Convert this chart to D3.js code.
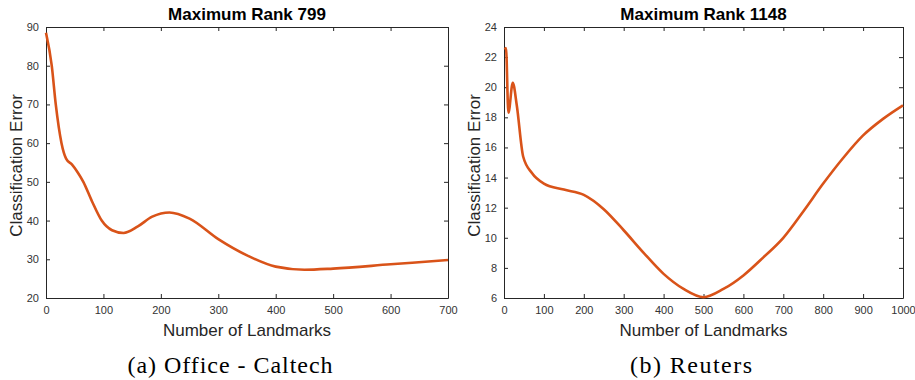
<!DOCTYPE html>
<html>
<head>
<meta charset="utf-8">
<script src="https://cdn.jsdelivr.net/npm/d3@7"></script>
<style>
  body { margin: 0; background: #fff; }
  svg { display: block; }
  .tick text { font-family: "Liberation Sans", Arial, sans-serif; font-size: 11px; fill: #333; }
</style>
</head>
<body>
<svg id="chart" width="915" height="380"></svg>
<script>
// Office - Caltech
const officeX = [0, 10, 17, 27, 35, 45, 55, 65, 80, 97, 115, 135, 160, 185, 215, 250, 300, 350, 400, 450, 500, 600, 700];
const officeY = [88.5, 80, 70, 60, 56, 54.5, 52.5, 50, 45, 40, 37.5, 36.8, 38.5, 41, 42.1, 40.5, 35.2, 31, 28.1, 27.3, 27.6, 28.7, 29.8];
// Reuters
const reutersX = [2, 5, 11, 22, 32, 48, 70, 100, 150, 200, 250, 300, 350, 400, 450, 500, 550, 600, 650, 700, 750, 800, 850, 900, 950, 1000];
const reutersY = [22.5, 22.6, 18.3, 20.3, 18.8, 15.4, 14.3, 13.6, 13.2, 12.85, 11.9, 10.5, 9.0, 7.6, 6.6, 6.05, 6.6, 7.5, 8.7, 10.0, 11.75, 13.6, 15.3, 16.8, 17.9, 18.8];

const officeXTicks = [0, 100, 200, 300, 400, 500, 600, 700];
const officeYTicks = [20, 30, 40, 50, 60, 70, 80, 90];
const reutersXTicks = [0, 100, 200, 300, 400, 500, 600, 700, 800, 900, 1000];
const reutersYTicks = [6, 8, 10, 12, 14, 16, 18, 20, 22, 24];

const panels = [
  { left: 46, right: 448, xs: officeX, ys: officeY, xDom: [0, 700], yDom: [20, 90],
    xTicks: officeXTicks, yTicks: officeYTicks, title: 'Maximum Rank 799', caption: '(a) Office - Caltech', capX: 230, capLen: 205 },
  { left: 504, right: 903, xs: reutersX, ys: reutersY, xDom: [0, 1000], yDom: [6, 24],
    xTicks: reutersXTicks, yTicks: reutersYTicks, title: 'Maximum Rank 1148', caption: '(b) Reuters', capX: 691, capLen: 122 }
];

const plotTop = 27, plotBottom = 298;
const svg = d3.select('#chart');

panels.forEach(p => {
  const x = d3.scaleLinear().domain(p.xDom).range([p.left, p.right]);
  const y = d3.scaleLinear().domain(p.yDom).range([plotBottom, plotTop]);
  const g = svg.append('g');

  const axisStyle = sel => {
    sel.select('.domain').attr('stroke', '#262626');
    sel.selectAll('.tick line').attr('stroke', '#262626');
  };

  g.append('g').attr('transform', `translate(0,${plotBottom})`)
    .call(d3.axisBottom(x).tickValues(p.xTicks).tickFormat(d3.format('d'))
      .tickSizeInner(-4).tickSizeOuter(0).tickPadding(8))
    .call(axisStyle);
  g.append('g').attr('transform', `translate(0,${plotTop})`)
    .call(d3.axisTop(x).tickValues(p.xTicks).tickSizeInner(-4).tickSizeOuter(0).tickFormat(''))
    .call(axisStyle);
  g.append('g').attr('transform', `translate(${p.left},0)`)
    .call(d3.axisLeft(y).tickValues(p.yTicks).tickSizeInner(-4).tickSizeOuter(0).tickPadding(7))
    .call(axisStyle);
  g.append('g').attr('transform', `translate(${p.right},0)`)
    .call(d3.axisRight(y).tickValues(p.yTicks).tickSizeInner(-4).tickSizeOuter(0).tickFormat(''))
    .call(axisStyle);

  const line = d3.line()
    .x((d, i) => x(p.xs[i]))
    .y(d => y(d))
    .curve(d3.curveMonotoneX);
  g.append('path')
    .datum(p.ys)
    .attr('d', line)
    .attr('fill', 'none')
    .attr('stroke', '#D95319')
    .attr('stroke-width', 2.6)
    .attr('stroke-linejoin', 'round');

  const cx = (p.left + p.right) / 2;
  g.append('text')
    .attr('x', cx).attr('y', 20)
    .attr('text-anchor', 'middle')
    .style('font-family', '"Liberation Sans", Arial, sans-serif')
    .style('font-weight', 'bold').style('font-size', '17px').style('fill', '#000')
    .text(p.title);

  g.append('text')
    .attr('x', cx).attr('y', 336)
    .attr('text-anchor', 'middle')
    .style('font-family', '"Liberation Sans", Arial, sans-serif')
    .style('font-size', '17px').style('fill', '#262626')
    .text('Number of Landmarks');

  g.append('text')
    .attr('transform', `translate(${p.left - 24},${(plotTop + plotBottom) / 2 + 3}) rotate(-90)`)
    .attr('text-anchor', 'middle')
    .style('font-family', '"Liberation Sans", Arial, sans-serif')
    .style('font-size', '17px').style('fill', '#262626')
    .text('Classification Error');

  g.append('text')
    .attr('x', p.capX).attr('y', 373)
    .attr('text-anchor', 'middle')
    .attr('textLength', p.capLen)
    .attr('lengthAdjust', 'spacing')
    .style('font-family', '"Liberation Serif", "Times New Roman", serif')
    .style('font-size', '24px').style('fill', '#000')
    .text(p.caption);
});
</script>
</body>
</html>
